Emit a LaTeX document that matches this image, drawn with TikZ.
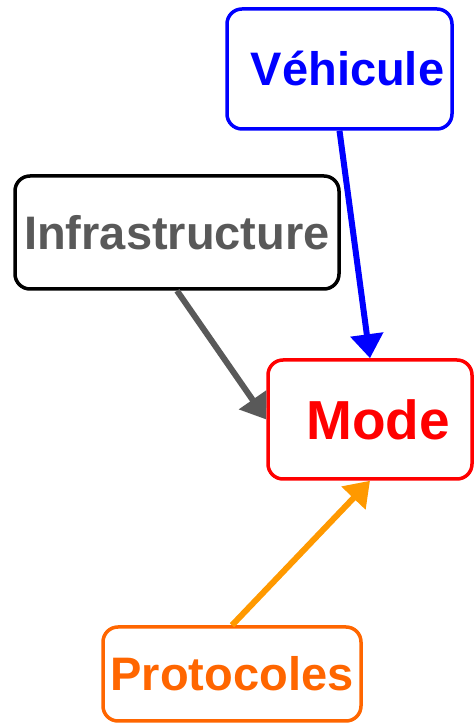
\documentclass[tikz,border=0pt]{standalone}
\usepackage{fontspec}
\setmainfont{Liberation Sans}
\usetikzlibrary{arrows.meta}

\definecolor{vehblue}{RGB}{0,0,255}
\definecolor{infgray}{RGB}{89,89,89}
\definecolor{modered}{RGB}{255,0,0}
\definecolor{protorange}{RGB}{255,102,0}
\definecolor{arrorange}{RGB}{255,153,0}

\tikzset{
  box/.style={draw, line width=3.5pt, rounded corners=15pt, fill=white, font=\bfseries\fontsize{47}{50}\selectfont, inner sep=0pt},
  link/.style={line width=6pt, -{Triangle[length=24pt,width=32pt]}}
}

\begin{document}
\begin{tikzpicture}[x=1pt,y=1pt]

\useasboundingbox (0,0) rectangle (474,725);

\begin{scope}

\node[box, draw=vehblue, text=vehblue, minimum width=225pt, minimum height=120pt] (veh) at (339.5,656) {\hspace*{16pt}Véhicule};
\node[box, draw=black, text=infgray, minimum width=324pt, minimum height=113pt] (infra) at (177,492.5) {Infrastructure};
\node[box, draw=modered, text=modered, minimum width=204pt, minimum height=119pt, font=\bfseries\fontsize{55}{58}\selectfont] (mode) at (370,305.5) {\hspace*{16pt}Mode};
\node[box, draw=protorange, text=protorange, minimum width=258pt, minimum height=94pt] (prot) at (232,51) {Protocoles};

\draw[link, vehblue] (veh.south) -- (mode.north);
\draw[link, infgray] (infra.south) -- (mode.west);
\draw[link, arrorange] (prot.north) -- (mode.south);

\end{scope}

\end{tikzpicture}
\end{document}
